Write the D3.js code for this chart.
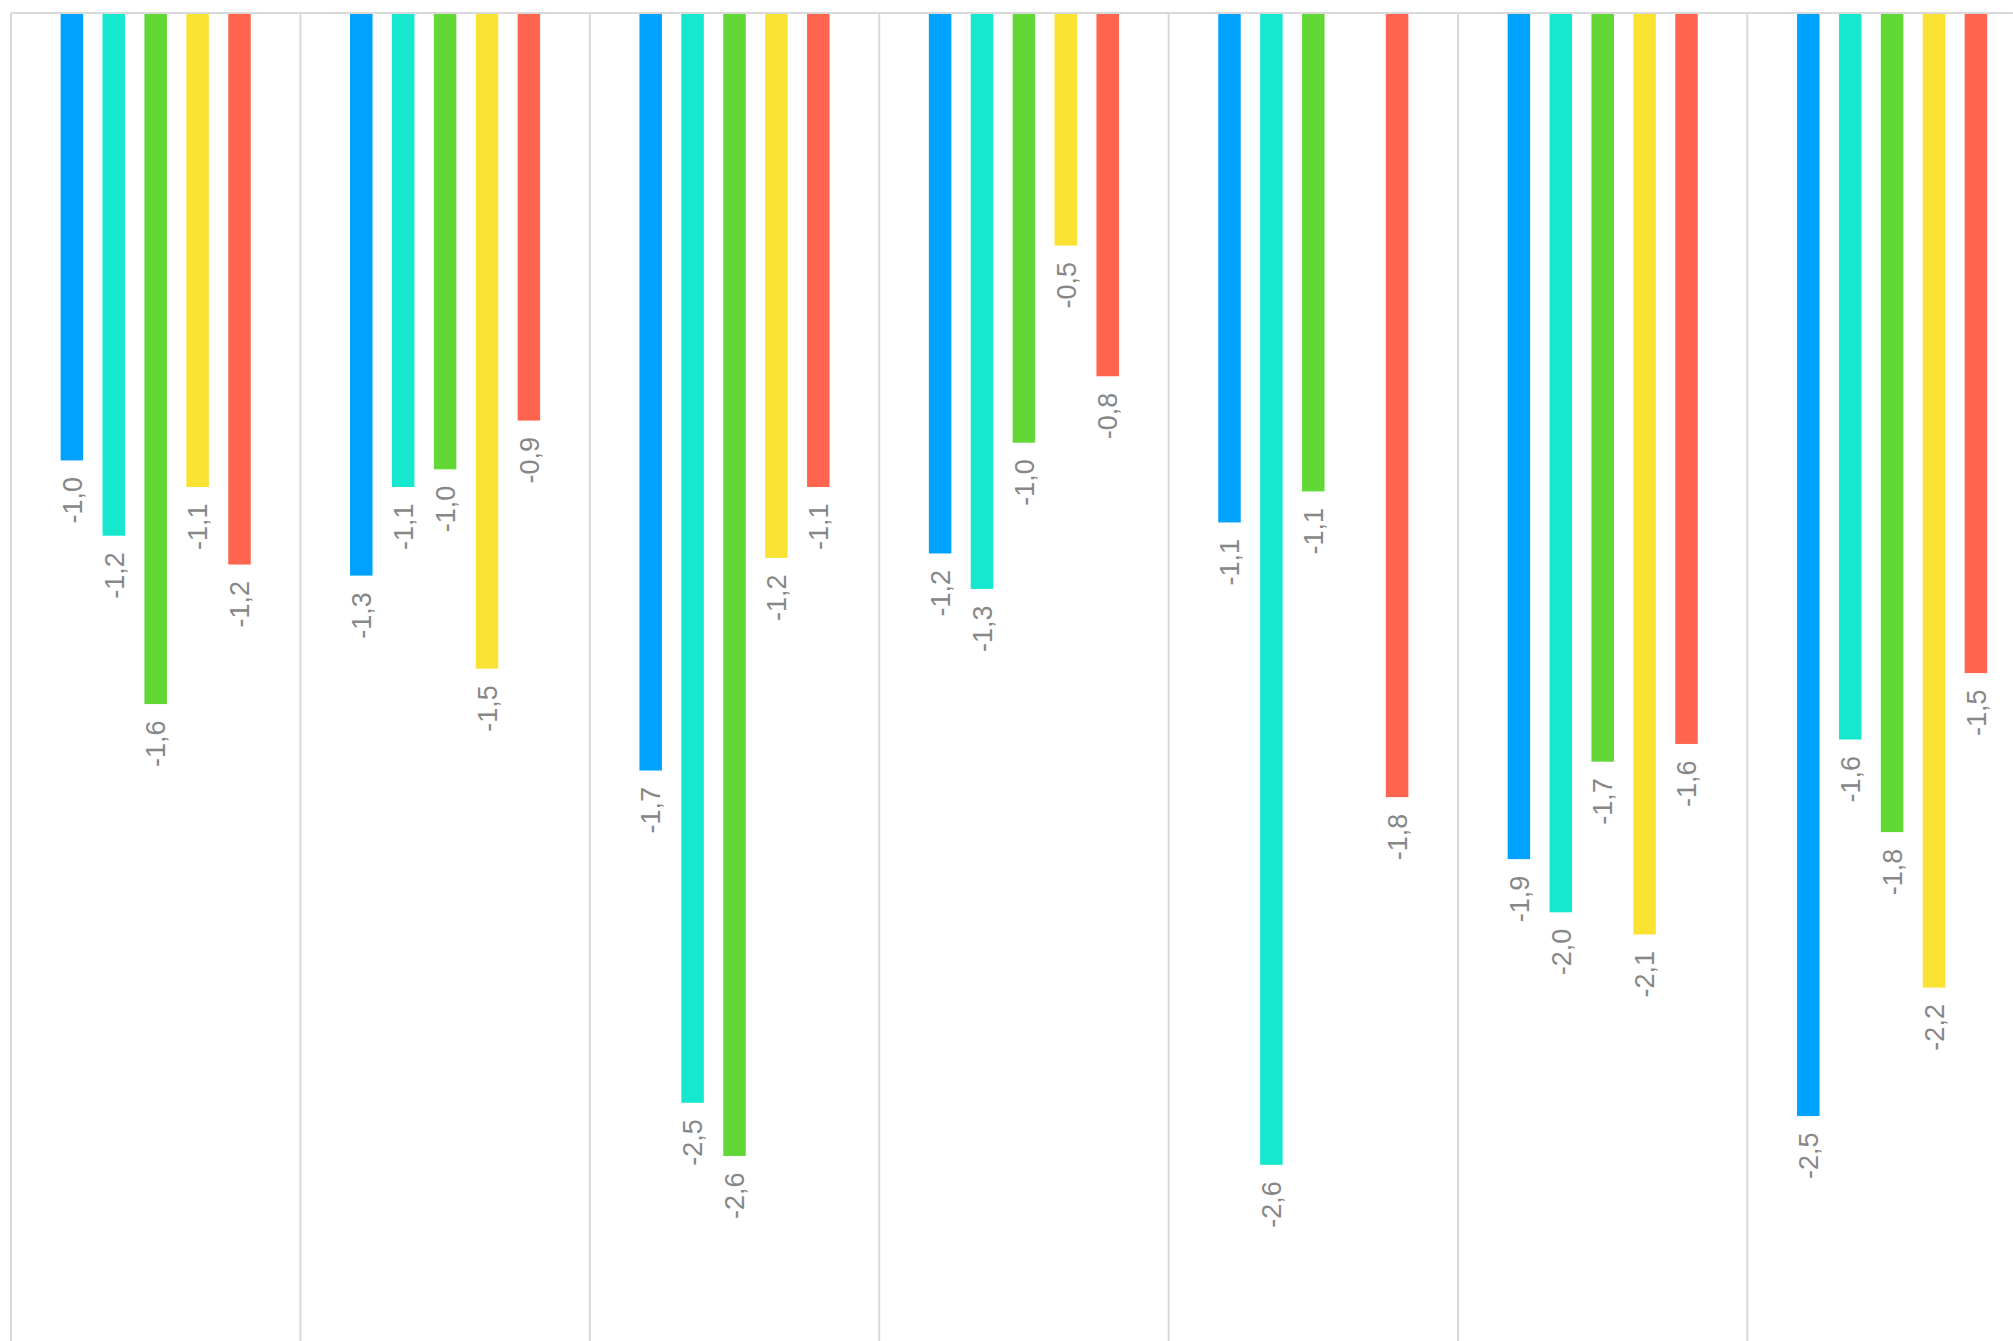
<!DOCTYPE html>
<html>
<head>
<meta charset="utf-8">
<script src="https://cdn.jsdelivr.net/npm/d3@7"></script>
<style>
  html, body { margin: 0; padding: 0; background: #fff; overflow: hidden; }
  svg { display: block; }
</style>
</head>
<body>
<script>
// ---- data ----
const categories = ["1", "2", "3", "4", "5", "6", "7"];
const seriesNames = ["S1", "S2", "S3", "S4", "S5"];
const seriesColors = ["#00A2FF", "#16E7CF", "#61D836", "#FAE232", "#FF644E"];
const s1 = [-1.01, -1.27, -1.71, -1.22, -1.15, -1.91, -2.49];
const s2 = [-1.18, -1.07, -2.46, -1.30, -2.60, -2.03, -1.64];
const s3 = [-1.56, -1.03, -2.58, -0.97, -1.08, -1.69, -1.849];
const s4 = [-1.07, -1.48, -1.23, -0.525, null, -2.08, -2.20];
const s5 = [-1.245, -0.92, -1.07, -0.82, -1.77, -1.65, -1.49];
const series = [s1, s2, s3, s4, s5];
const yDomain = [0, -3];

// ---- layout ----
const W = 2013, H = 1341;
const mLeft = 11, mTop = 13;
const groupW = 289.4;
const plotW = groupW * categories.length;
const plotBottom = 1342;

const svg = d3.select("body").append("svg")
  .attr("width", W).attr("height", H);

const x0 = d3.scaleBand().domain(categories).range([mLeft, mLeft + plotW]).padding(0);
const x1 = d3.scaleBand().domain(seriesNames).range([0, x0.bandwidth()])
  .paddingInner(0.463).paddingOuter(1.185);
const y = d3.scaleLinear().domain(yDomain).range([mTop, plotBottom]);
const color = d3.scaleOrdinal().domain(seriesNames).range(seriesColors);

// gridlines (category boundaries)
const grid = svg.append("g");
const bounds = categories.map(c => x0(c));
grid.selectAll("line.v").data(bounds).join("line")
  .attr("class", "v")
  .attr("x1", d => d).attr("x2", d => d)
  .attr("y1", y(0)).attr("y2", H + 5)
  .attr("stroke", "#d9d9d9").attr("stroke-width", 2);
grid.append("line")
  .attr("x1", mLeft).attr("x2", mLeft + plotW)
  .attr("y1", y(0)).attr("y2", y(0))
  .attr("stroke", "#d9d9d9").attr("stroke-width", 2);

// bars
const flat = [];
categories.forEach((c, i) => {
  seriesNames.forEach((s, j) => {
    const v = series[j][i];
    if (v !== null && v !== undefined) flat.push({ c, s, v });
  });
});

const g = svg.append("g");
g.selectAll("rect").data(flat).join("rect")
  .attr("x", d => x0(d.c) + x1(d.s))
  .attr("width", x1.bandwidth())
  .attr("y", d => y(0) + 1)
  .attr("height", d => y(d.v) - y(0) - 1)
  .attr("fill", d => color(d.s));

// labels
const fmt = v => d3.format(".1f")(v).replace("−", "-").replace(".", ",");
g.selectAll("text").data(flat).join("text")
  .attr("transform", d => {
    const cx = x0(d.c) + x1(d.s) + x1.bandwidth() / 2;
    const ty = y(d.v) + 16.5;
    return `translate(${cx},${ty}) rotate(-90)`;
  })
  .attr("dy", "0.36em")
  .attr("text-anchor", "end")
  .attr("font-family", "Liberation Sans, Arial, sans-serif")
  .attr("font-size", 27)
  .attr("fill", "#878787")
  .text(d => fmt(d.v));
</script>
</body>
</html>
